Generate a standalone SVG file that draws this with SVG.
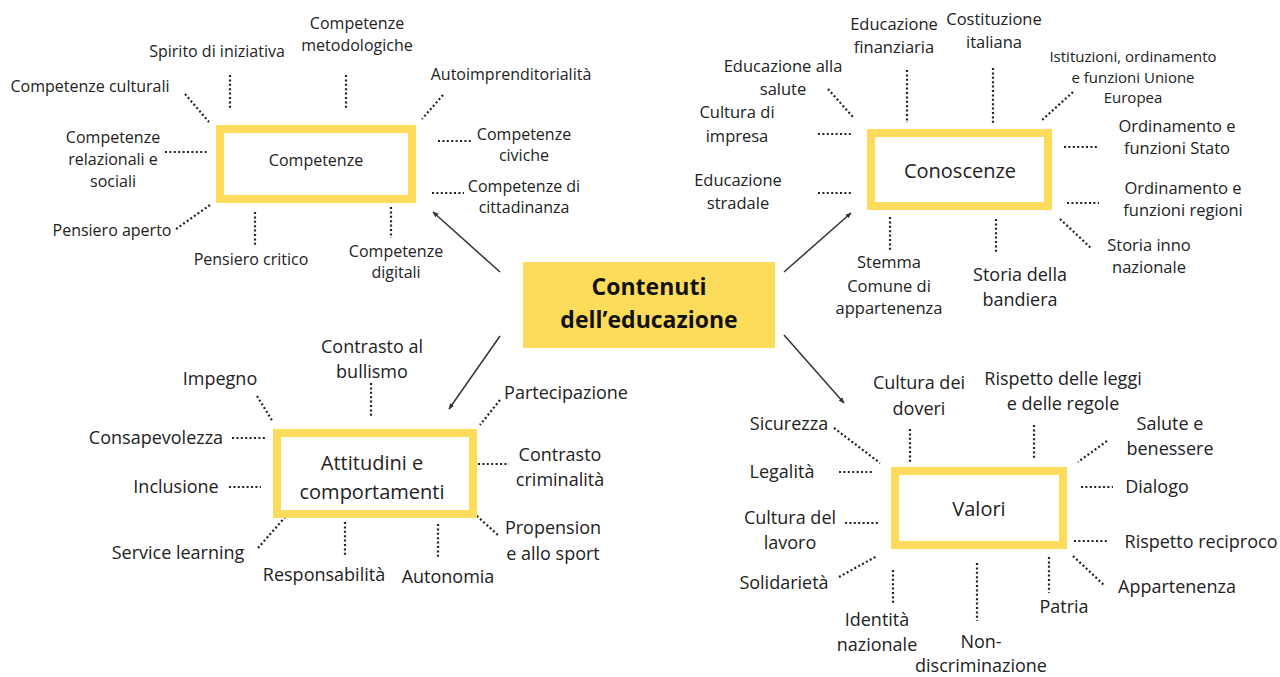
<svg xmlns="http://www.w3.org/2000/svg" width="1280" height="677" viewBox="0 0 1280 677">
<style>
text{font-family:"Open Sans","DejaVu Sans",sans-serif;fill:#222;text-anchor:middle}
.s16{font-size:16px}.s165{font-size:16.5px}.s15{font-size:15px}.s18{font-size:18px}.s20{font-size:20px}
.title{font-size:23px;font-weight:bold;fill:#111}
.box{fill:#fff;stroke:#FDDC5C;stroke-width:8}
.dot{fill:none;stroke:#222;stroke-width:2.2;stroke-dasharray:2 2.4}
.arr{fill:none;stroke:#333;stroke-width:1.5;marker-end:url(#ah)}
</style>
<defs>
<marker id="ah" viewBox="0 0 10 10" refX="9" refY="5" markerWidth="6" markerHeight="6" orient="auto" markerUnits="userSpaceOnUse">
<path d="M0,1 L10,5 L0,9 z" fill="#333"/>
</marker>
</defs>
<rect width="1280" height="677" fill="#fff"/>

<g id="connectors">
<line class="arr" x1="500" y1="272" x2="433" y2="212"/>
<line class="arr" x1="784" y1="272" x2="851" y2="213"/>
<line class="arr" x1="500" y1="336" x2="449" y2="409"/>
<line class="arr" x1="784" y1="335" x2="844" y2="403"/>
<!-- Competenze -->
<line class="dot" x1="230" y1="75" x2="230" y2="108"/>
<line class="dot" x1="346" y1="75" x2="346" y2="108"/>
<line class="dot" x1="185" y1="94" x2="209" y2="122"/>
<line class="dot" x1="443" y1="95" x2="422" y2="119"/>
<line class="dot" x1="165" y1="152" x2="209" y2="152"/>
<line class="dot" x1="438" y1="141" x2="471" y2="141"/>
<line class="dot" x1="432" y1="193" x2="464" y2="193"/>
<line class="dot" x1="176" y1="229" x2="210" y2="205"/>
<line class="dot" x1="255" y1="212" x2="255" y2="245"/>
<line class="dot" x1="391" y1="207" x2="391" y2="238"/>
<!-- Conoscenze -->
<line class="dot" x1="907" y1="70" x2="907" y2="123"/>
<line class="dot" x1="993" y1="68" x2="993" y2="123"/>
<line class="dot" x1="828" y1="89" x2="853" y2="117"/>
<line class="dot" x1="1073" y1="92" x2="1041" y2="121"/>
<line class="dot" x1="818" y1="134" x2="851" y2="134"/>
<line class="dot" x1="1064" y1="147" x2="1097" y2="147"/>
<line class="dot" x1="818" y1="193" x2="851" y2="193"/>
<line class="dot" x1="1067" y1="203" x2="1099" y2="203"/>
<line class="dot" x1="890" y1="217" x2="890" y2="250"/>
<line class="dot" x1="996" y1="219" x2="996" y2="252"/>
<line class="dot" x1="1060" y1="219" x2="1092" y2="249"/>
<!-- Attitudini -->
<line class="dot" x1="257" y1="396" x2="273" y2="422"/>
<line class="dot" x1="371" y1="383" x2="371" y2="417"/>
<line class="dot" x1="500" y1="400" x2="480" y2="425"/>
<line class="dot" x1="232" y1="438" x2="265" y2="438"/>
<line class="dot" x1="478" y1="464" x2="509" y2="464"/>
<line class="dot" x1="229" y1="487" x2="261" y2="487"/>
<line class="dot" x1="258" y1="548" x2="287" y2="515"/>
<line class="dot" x1="467" y1="507" x2="499" y2="536"/>
<line class="dot" x1="345" y1="522" x2="345" y2="555"/>
<line class="dot" x1="438" y1="524" x2="438" y2="557"/>
<!-- Valori -->
<line class="dot" x1="834" y1="428" x2="880" y2="463"/>
<line class="dot" x1="910" y1="429" x2="910" y2="462"/>
<line class="dot" x1="1034" y1="425" x2="1034" y2="458"/>
<line class="dot" x1="1107" y1="441" x2="1078" y2="462"/>
<line class="dot" x1="839" y1="472" x2="872" y2="472"/>
<line class="dot" x1="1081" y1="487" x2="1113" y2="487"/>
<line class="dot" x1="845" y1="523" x2="878" y2="523"/>
<line class="dot" x1="1074" y1="541" x2="1107" y2="541"/>
<line class="dot" x1="839" y1="577" x2="877" y2="556"/>
<line class="dot" x1="893" y1="570" x2="893" y2="603"/>
<line class="dot" x1="977" y1="563" x2="977" y2="621"/>
<line class="dot" x1="1049" y1="557" x2="1049" y2="593"/>
<line class="dot" x1="1073" y1="556" x2="1105" y2="586"/>
</g>

<g id="center">
<rect x="523" y="262" width="252" height="86" fill="#FDDC5C"/>
<text class="title" x="649" y="295">Contenuti</text>
<text class="title" x="649" y="328">dell’educazione</text>
</g>

<g id="competenze">
<rect class="box" x="220" y="129" width="192" height="70"/>
<text class="s16" x="316" y="166">Competenze</text>
</g>
<g id="competenze-labels">
<text class="s16" x="217" y="57">Spirito di iniziativa</text>
<text class="s16" x="357" y="29">Competenze</text>
<text class="s16" x="357" y="51">metodologiche</text>
<text class="s16" x="90" y="92">Competenze culturali</text>
<text class="s16" x="511" y="80">Autoimprenditorialità</text>
<text class="s16" x="113" y="143">Competenze</text>
<text class="s16" x="113" y="165">relazionali e</text>
<text class="s16" x="113" y="187">sociali</text>
<text class="s16" x="524" y="140">Competenze</text>
<text class="s16" x="524" y="161">civiche</text>
<text class="s16" x="524" y="192">Competenze di</text>
<text class="s16" x="524" y="213">cittadinanza</text>
<text class="s16" x="112" y="236">Pensiero aperto</text>
<text class="s16" x="251" y="265">Pensiero critico</text>
<text class="s16" x="396" y="257">Competenze</text>
<text class="s16" x="396" y="278">digitali</text>
</g>

<g id="conoscenze">
<rect class="box" x="871" y="133" width="177" height="73"/>
<text class="s20" x="960" y="178">Conoscenze</text>
</g>
<g id="conoscenze-labels">
<text class="s165" x="894" y="30">Educazione</text>
<text class="s165" x="894" y="53">finanziaria</text>
<text class="s165" x="994" y="25">Costituzione</text>
<text class="s165" x="994" y="48">italiana</text>
<text class="s165" x="783" y="72">Educazione alla</text>
<text class="s165" x="783" y="95">salute</text>
<text class="s165" x="737" y="118">Cultura di</text>
<text class="s165" x="737" y="142">impresa</text>
<text class="s15" x="1133" y="62">Istituzioni, ordinamento</text>
<text class="s15" x="1133" y="83">e funzioni Unione</text>
<text class="s15" x="1133" y="103">Europea</text>
<text class="s165" x="1177" y="132">Ordinamento e</text>
<text class="s165" x="1177" y="154">funzioni Stato</text>
<text class="s165" x="738" y="186">Educazione</text>
<text class="s165" x="738" y="209">stradale</text>
<text class="s165" x="1183" y="194">Ordinamento e</text>
<text class="s165" x="1183" y="216">funzioni regioni</text>
<text class="s165" x="889" y="268">Stemma</text>
<text class="s165" x="889" y="292">Comune di</text>
<text class="s165" x="889" y="314">appartenenza</text>
<text class="s18" x="1020" y="281">Storia della</text>
<text class="s18" x="1020" y="306">bandiera</text>
<text class="s165" x="1149" y="251">Storia inno</text>
<text class="s165" x="1149" y="273">nazionale</text>
</g>

<g id="attitudini">
<rect class="box" x="277" y="433" width="196" height="81"/>
<text class="s20" x="372" y="470">Attitudini e</text>
<text class="s20" x="372" y="499">comportamenti</text>
</g>
<g id="attitudini-labels">
<text class="s18" x="220" y="385">Impegno</text>
<text class="s18" x="372" y="353">Contrasto al</text>
<text class="s18" x="372" y="378">bullismo</text>
<text class="s18" x="566" y="399">Partecipazione</text>
<text class="s18" x="156" y="444">Consapevolezza</text>
<text class="s18" x="560" y="461">Contrasto</text>
<text class="s18" x="560" y="486">criminalità</text>
<text class="s18" x="176" y="493">Inclusione</text>
<text class="s18" x="178" y="559">Service learning</text>
<text class="s18" x="553" y="534">Propension</text>
<text class="s18" x="553" y="560">e allo sport</text>
<text class="s18" x="324" y="581">Responsabilità</text>
<text class="s18" x="448" y="583">Autonomia</text>
</g>

<g id="valori">
<rect class="box" x="895" y="471" width="168" height="74"/>
<text class="s20" x="979" y="516">Valori</text>
</g>
<g id="valori-labels">
<text class="s18" x="919" y="389">Cultura dei</text>
<text class="s18" x="919" y="415">doveri</text>
<text class="s18" x="1063" y="385">Rispetto delle leggi</text>
<text class="s18" x="1063" y="410">e delle regole</text>
<text class="s18" x="789" y="430">Sicurezza</text>
<text class="s18" x="1170" y="430">Salute e</text>
<text class="s18" x="1170" y="455">benessere</text>
<text class="s18" x="782" y="478">Legalità</text>
<text class="s18" x="1157" y="493">Dialogo</text>
<text class="s18" x="790" y="524">Cultura del</text>
<text class="s18" x="790" y="549">lavoro</text>
<text class="s18" x="1201" y="548">Rispetto reciproco</text>
<text class="s18" x="784" y="589">Solidarietà</text>
<text class="s18" x="1177" y="593">Appartenenza</text>
<text class="s18" x="1064" y="613">Patria</text>
<text class="s18" x="877" y="626">Identità</text>
<text class="s18" x="877" y="651">nazionale</text>
<text class="s18" x="981" y="648">Non-</text>
<text class="s18" x="981" y="672">discriminazione</text>
</g>
</svg>
